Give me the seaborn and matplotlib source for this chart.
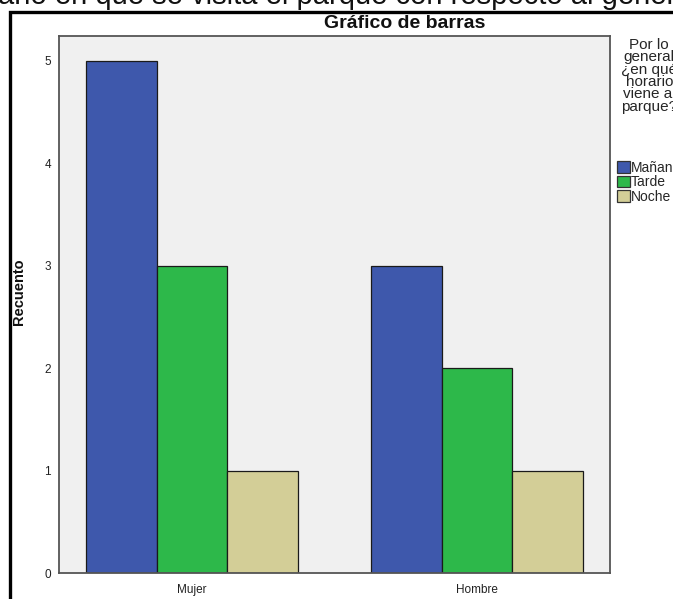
import matplotlib
matplotlib.use("Agg")
import matplotlib.pyplot as plt
from matplotlib.patches import Rectangle
import seaborn as sns
import pandas as pd

# Counts of visitors by sex and usual time of day
sexo = ["Mujer", "Hombre"]
horario = ["Mañana", "Tarde", "Noche"]
recuento_mujer = [5, 3, 1]
recuento_hombre = [3, 2, 1]
colores = ["#3E58AC", "#2DB84A", "#D3CE97"]
yticks = [0, 1, 2, 3, 4, 5]

df = pd.DataFrame({
    "sexo": [s for s in sexo for _ in horario],
    "horario": horario * len(sexo),
    "recuento": recuento_mujer + recuento_hombre,
})

sns.set_style("white")
plt.rcParams["font.family"] = ["Liberation Sans", "DejaVu Sans"]

W, H = 673, 599
fig = plt.figure(figsize=(W / 100, H / 100), dpi=100)
fig.patch.set_facecolor("white")

def px(x, y):
    return x / W, 1 - y / H

# plot area
x0, y0 = px(59.3, 573.3)
x1, y1 = px(610, 35.7)
ax = fig.add_axes([x0, y0, x1 - x0, y1 - y0])
ax.set_facecolor("#F0F0F0")

sns.barplot(data=df, x="sexo", y="recuento", hue="horario",
            order=sexo, hue_order=horario, palette=colores,
            width=0.742, saturation=1, edgecolor="#1a1a1a",
            linewidth=0.9, ax=ax)

ax.set_xlim(-0.466, 1.467)
ax.set_ylim(0, 5.245)
ax.set_yticks(yticks)
ax.set_yticklabels([str(v) for v in yticks])
ax.set_xlabel("")
ax.set_ylabel("Recuento", fontsize=10.5, fontweight="bold", color="#111111")
ax.yaxis.set_label_coords(-0.061, 0.524)

for sp in ax.spines.values():
    sp.set_color("#555555")
    sp.set_linewidth(1.3)
ax.tick_params(axis="both", which="both", direction="out", length=4.5,
               width=1.2, color="#555555", labelsize=8.5,
               labelcolor="#222222", pad=1.5)
ax.tick_params(axis="x", length=5, pad=3)

# legend on the right, partly beyond the figure edge
handles, labels = ax.get_legend_handles_labels()
ax.get_legend().remove()
lx, ly = px(617, 38)
leg = fig.legend(handles, labels,
                 title="Por lo\ngeneral\n¿en qué\nhorario\nviene al\nparque?",
                 loc="upper left", bbox_to_anchor=(lx, ly), frameon=False,
                 fontsize=10, title_fontsize=11, handlelength=0.9,
                 handleheight=0.9, handletextpad=0.12, labelspacing=0.02,
                 borderpad=0, borderaxespad=0, alignment="center")
leg.get_title().set_multialignment("center")
leg.get_title().set_linespacing(0.85)
leg._legend_box.sep = 34
for h in leg.legend_handles:
    h.set_edgecolor("#333333")
    h.set_linewidth(0.9)

# chart title
tx, ty = px(405, 23)
fig.text(tx, ty, "Gráfico de barras", ha="center", va="center",
         fontsize=14, fontweight="bold", color="#111111")

# heading above the chart frame, running past both figure edges
heading = "Horario en que se visita el parque con respecto al género"
prefix = "Horario en "
fig.canvas.draw()
renderer = fig.canvas.get_renderer()
tmp = fig.text(0, 0, prefix, fontsize=21)
pw = tmp.get_window_extent(renderer).width
tmp.remove()
fig.text((95 - pw) / W, 1 - 4 / H, heading, ha="left", va="baseline",
         fontsize=21, color="#111111")

# outer frame of the output block
frame = Rectangle(px(10, 700), (W + 50) / W, (700 - 11.5) / H,
                  transform=fig.transFigure, fill=False,
                  edgecolor="black", linewidth=2.4, clip_on=False)
fig.patches.append(frame)

fig.savefig("out.png", dpi=100)
